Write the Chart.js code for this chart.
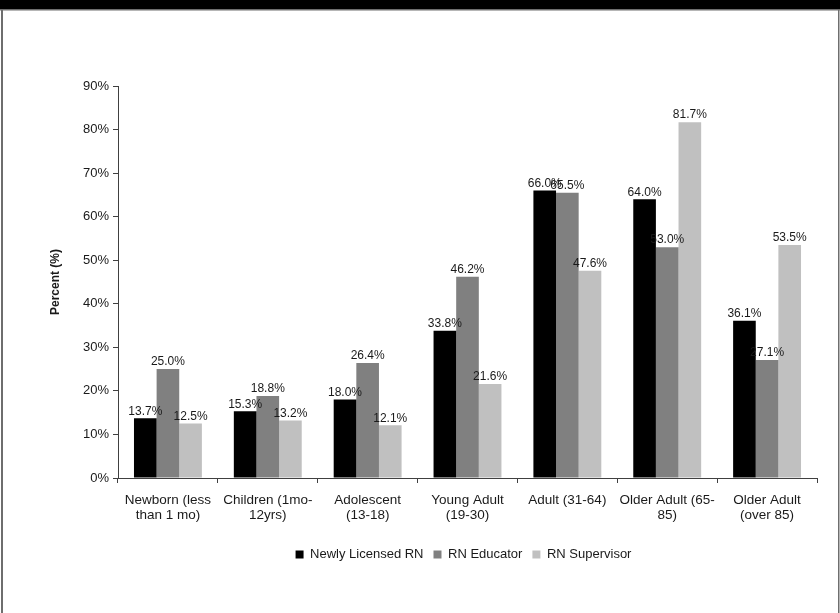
<!DOCTYPE html>
<html>
<head>
<meta charset="utf-8">
<script src="https://cdn.jsdelivr.net/npm/chart.js@4/dist/chart.umd.min.js"></script>
<style>
  html, body { margin: 0; padding: 0; background: #fff; }
  canvas { display: block; }
</style>
</head>
<body>
<canvas id="c" width="840" height="613"></canvas>
<script>
// Age groups served, by nurse role (percent of respondents)
const categories = [
  ["Newborn (less", "than 1 mo)"],
  ["Children (1mo-", "12yrs)"],
  ["Adolescent", "(13-18)"],
  ["Young Adult", "(19-30)"],
  ["Adult (31-64)"],
  ["Older Adult (65-", "85)"],
  ["Older Adult", "(over 85)"]
];
const newlyLicensed = [13.7, 15.3, 18.0, 33.8, 66.0, 64.0, 36.1];
const rnEducator    = [25.0, 18.8, 26.4, 46.2, 65.5, 53.0, 27.1];
const rnSupervisor  = [12.5, 13.2, 12.1, 21.6, 47.6, 81.7, 53.5];
const seriesNames   = ["Newly Licensed RN", "RN Educator", "RN Supervisor"];
const yMax = 90;
const yStep = 10;

const FONT = '"Liberation Sans", Arial, Helvetica, sans-serif';
const TEXT = '#1a1a1a';
const AXIS = '#404040';

// Frame: white page, black header band and thin grey edges
const framePlugin = {
  id: 'frame',
  beforeDraw(chart) {
    const ctx = chart.ctx;
    const w = chart.width, h = chart.height;
    ctx.save();
    ctx.fillStyle = '#ffffff';
    ctx.fillRect(0, 0, w, h);
    ctx.fillStyle = '#000000';
    ctx.fillRect(0, 0, w, 9);
    ctx.fillStyle = '#6e6e6e';
    ctx.fillRect(0, 9, w, 1.5);
    ctx.fillRect(1, 9, 2, h - 9);
    ctx.fillRect(w - 2, 9, 1.5, h - 9);
    ctx.restore();
  }
};

// Nudge the legend row to the right of the default centre
const legendShift = {
  id: 'legendShift',
  afterLayout(chart) {
    const lg = chart.legend;
    if (lg) { lg.left += 55; lg.right += 55; }
  }
};

// Value labels above each bar
const valueLabels = {
  id: 'valueLabels',
  afterDatasetsDraw(chart) {
    const ctx = chart.ctx;
    ctx.save();
    ctx.font = '12px ' + FONT;
    ctx.fillStyle = TEXT;
    ctx.textAlign = 'center';
    ctx.textBaseline = 'bottom';
    chart.data.datasets.forEach((ds, i) => {
      const meta = chart.getDatasetMeta(i);
      meta.data.forEach((bar, j) => {
        ctx.fillText(ds.data[j].toFixed(1) + '%', bar.x, bar.y - 1);
      });
    });
    ctx.restore();
  }
};

new Chart(document.getElementById('c'), {
  type: 'bar',
  data: {
    labels: categories,
    datasets: [
      { label: seriesNames[0], data: newlyLicensed, backgroundColor: '#000000' },
      { label: seriesNames[1], data: rnEducator,    backgroundColor: '#808080' },
      { label: seriesNames[2], data: rnSupervisor,  backgroundColor: '#c0c0c0' }
    ]
  },
  options: {
    responsive: false,
    animation: false,
    events: [],
    datasets: {
      bar: { categoryPercentage: 0.68, barPercentage: 1.0, borderWidth: 0 }
    },
    layout: { padding: { top: 86, left: 0, right: 23, bottom: 42 } },
    plugins: {
      tooltip: { enabled: false },
      legend: {
        position: 'bottom',
        labels: {
          font: { family: FONT, size: 13 },
          color: TEXT,
          boxWidth: 8,
          boxHeight: 8,
          padding: 10
        }
      }
    },
    scales: {
      x: {
        grid: {
          drawOnChartArea: false,
          offset: true,
          tickLength: 5,
          tickColor: AXIS
        },
        border: { color: AXIS, width: 1 },
        ticks: {
          font: { family: FONT, size: 13.5, lineHeight: 1.12 },
          color: TEXT,
          maxRotation: 0,
          autoSkip: false,
          padding: 10
        },
        afterFit(scale) { scale.height = 60; }
      },
      y: {
        min: 0,
        max: yMax,
        grid: {
          drawOnChartArea: false,
          tickLength: 5,
          tickColor: AXIS
        },
        border: { color: AXIS, width: 1 },
        ticks: {
          stepSize: yStep,
          font: { family: FONT, size: 13 },
          color: TEXT,
          padding: 4,
          callback: v => v + '%'
        },
        title: {
          display: true,
          text: 'Percent (%)',
          font: { family: FONT, size: 12, weight: 'bold' },
          color: TEXT,
          padding: { top: 48, bottom: 0 }
        },
        afterFit(scale) { scale.width = 118; }
      }
    }
  },
  plugins: [framePlugin, legendShift, valueLabels]
});
</script>
</body>
</html>
